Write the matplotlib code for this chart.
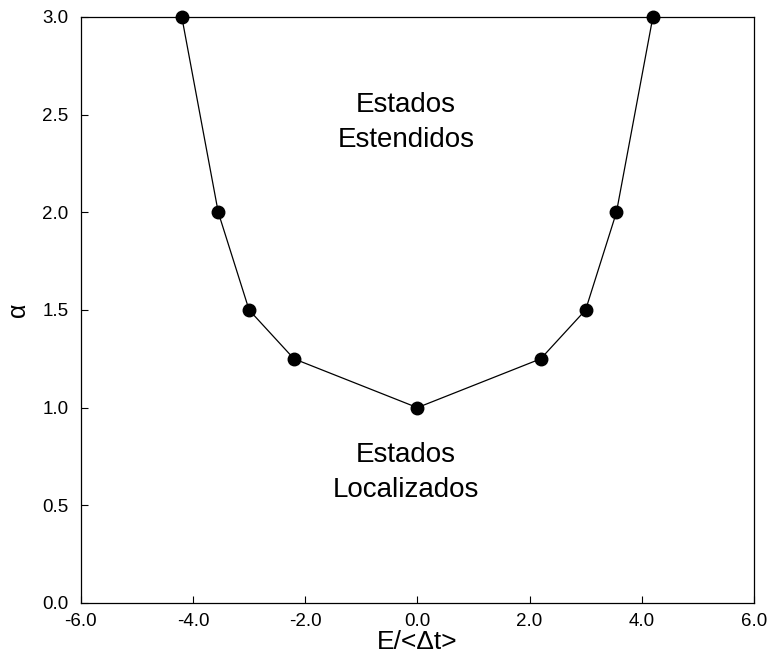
import matplotlib
matplotlib.use('Agg')
import matplotlib.pyplot as plt

energy = [-4.2, -3.55, -3.0, -2.2, 0.0, 2.2, 3.0, 3.55, 4.2]
alpha = [3.0, 2.0, 1.5, 1.25, 1.0, 1.25, 1.5, 2.0, 3.0]
xticks = [-6.0, -4.0, -2.0, 0.0, 2.0, 4.0, 6.0]
yticks = [0.0, 0.5, 1.0, 1.5, 2.0, 2.5, 3.0]

plt.rcParams['font.family'] = ['Liberation Sans', 'DejaVu Sans']

fig = plt.figure(figsize=(7.7, 6.53), dpi=100)
ax = fig.add_axes([0.105, 0.0766, 0.874, 0.8974])

ax.plot(energy, alpha, '-', color='black', lw=0.9, zorder=2)
ax.plot(energy, alpha, 'o', color='black', markersize=9, zorder=3, clip_on=False)

ax.set_xlim(-6, 6)
ax.set_ylim(0, 3)
ax.set_xticks(xticks)
ax.set_yticks(yticks)
ax.set_xticklabels([f'{t:.1f}' for t in xticks])
ax.set_yticklabels([f'{t:.1f}' for t in yticks])
ax.tick_params(direction='in', length=5, labelsize=13.5, top=False, right=False)
ax.tick_params(axis='y', pad=9)
ax.tick_params(axis='x', pad=7)
for s in ax.spines.values():
    s.set_linewidth(0.9)

ax.set_xlabel('E/<\u0394t>', fontsize=19, labelpad=0)
ax.set_ylabel('\u03b1', fontsize=18, labelpad=9)

ax.text(-0.2, 2.46, 'Estados\nEstendidos', ha='center', va='center',
        fontsize=20, linespacing=1.45)
ax.text(-0.2, 0.666, 'Estados\nLocalizados', ha='center', va='center',
        fontsize=20, linespacing=1.45)

fig.savefig('out.png', dpi=100)
